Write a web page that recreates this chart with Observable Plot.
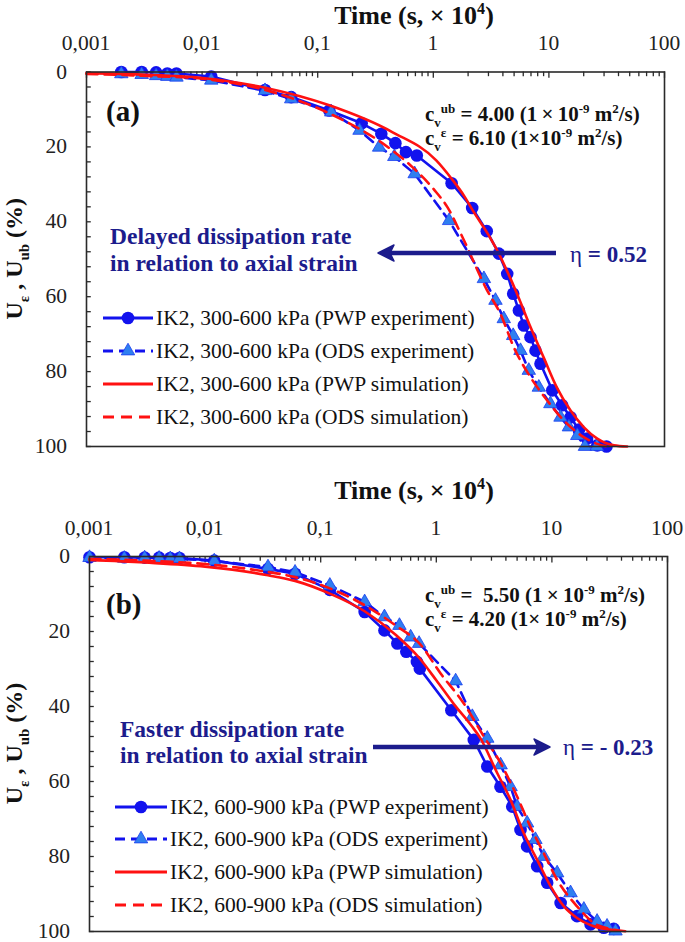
<!DOCTYPE html>
<html><head><meta charset="utf-8">
<script src="https://cdn.jsdelivr.net/npm/d3@7"></script>
<script src="https://cdn.jsdelivr.net/npm/@observablehq/plot@0.6"></script>
<style>
body{margin:0;background:#fff;}
#chart svg{display:block;}
</style></head><body><div id="chart"></div>
<script>
// ---------- tick values / labels ----------
const xTicks = [0.001, 0.01, 0.1, 1, 10, 100];
const xTickLabels = ["0,001", "0,01", "0,1", "1", "10", "100"];
const xMinorMult = [2, 3, 4, 5, 6, 7, 8, 9];
const yTicks = [0, 20, 40, 60, 80, 100];
const yMinor = [4, 8, 12, 16, 24, 28, 32, 36, 44, 48, 52, 56, 64, 68, 72, 76, 84, 88, 92, 96];

// ---------- panel (a): IK2, 300-600 kPa ----------  [time (s x 1e4), U (%)]
const aPwpExp = [[0.002,0],[0.003,0],[0.004,0.1],[0.005,0.4],[0.006,0.4],[0.012,1.2],[0.035,4.8],[0.059,6.7],[0.126,10.3],[0.24,13.7],[0.355,16.5],[0.47,19],[0.58,21.4],[0.72,22.3],[1.44,29.7],[2.17,36.3],[2.9,42.5],[3.69,48.5],[4.36,53.9],[4.91,59.2],[5.5,63.7],[6.07,67.7],[6.93,70.8],[7.66,74.4],[8.46,77.9],[10.7,85],[13.0,89],[15.4,92.2],[18.2,95.5],[21.4,97.9],[26.2,99.7],[31.5,100]];
const aOdsExp = [[0.002,0.5],[0.003,0.7],[0.004,1.0],[0.005,1.2],[0.006,1.4],[0.012,2.2],[0.035,5.0],[0.059,7.2],[0.131,10.7],[0.23,15.6],[0.34,20.1],[0.46,22.6],[0.69,27.2],[1.37,39.7],[2.74,55.2],[3.45,61],[4.07,65.9],[4.91,70.4],[5.68,74.4],[6.7,79.7],[8.18,84.2],[10.3,88.6],[12.6,92.2],[14.9,94.8],[17.6,97.1],[20.5,100],[26,100]];
const aPwpSim = [[0.001,0.3],[0.003,0.7],[0.01,1.6],[0.035,4.2],[0.126,8.9],[0.445,16.1],[1.06,23.6],[1.44,28.5],[1.84,33],[2.2,37],[3.0,43.5],[3.69,48.5],[4.4,53.5],[5.3,59.2],[6.93,68.1],[9.0,76.2],[11.7,84.2],[15.4,90.4],[20,94.8],[26.2,97.9],[36.5,99.7],[47.5,100]];
const aOdsSim = [[0.001,0.5],[0.003,1.0],[0.01,1.8],[0.039,5.2],[0.131,11.3],[0.445,21],[0.66,25.4],[1.06,32.1],[1.32,36],[1.75,43.5],[2.92,58.3],[3.81,64.6],[4.97,73.5],[6.93,81.5],[9.66,87.7],[13.5,93.1],[20,97.5],[26.2,99.3],[32,100]];
const aLegend = ["IK2, 300-600 kPa (PWP experiment)", "IK2, 300-600 kPa (ODS experiment)", "IK2, 300-600 kPa (PWP simulation)", "IK2, 300-600 kPa (ODS simulation)"];

// ---------- panel (b): IK2, 600-900 kPa ----------
const bPwpExp = [[0.001,0.2],[0.002,0.2],[0.003,0.3],[0.004,0.3],[0.005,0.4],[0.006,0.4],[0.012,1.1],[0.035,3.3],[0.06,4.6],[0.12,8.9],[0.24,14.8],[0.356,19.7],[0.46,23.2],[0.55,25.4],[0.68,28.1],[0.72,29.9],[1.35,41],[2.11,48.9],[2.76,56],[3.59,61.4],[4.54,66.7],[5.35,72.9],[6.1,77.3],[7.46,82.6],[9.1,87],[11.9,92.4],[16.5,95.9],[21.6,98.1],[28.1,99],[34.3,99.3]];
const bOdsExp = [[0.001,0.3],[0.002,0.5],[0.003,0.4],[0.004,0.5],[0.005,0.6],[0.006,0.6],[0.012,1.2],[0.035,2.8],[0.06,4.2],[0.12,7.7],[0.24,12.1],[0.356,16.1],[0.48,18.4],[0.6,21.5],[0.71,23.2],[1.47,33.2],[2.05,42.7],[2.76,48.5],[3.6,55.6],[4.39,61.4],[5.0,66.7],[6.1,71.1],[7.2,75.5],[8.5,80],[11.1,84.4],[14.5,89.7],[18.9,94.1],[24.6,97.3],[30,98.6],[35.5,99.9]];
const bPwpSim = [[0.001,0.9],[0.003,1.6],[0.01,2.7],[0.035,5.0],[0.06,6.5],[0.12,9.9],[0.24,14.6],[0.45,21],[0.71,27],[1.0,33],[1.43,39.5],[2.0,45],[2.41,48.5],[3.37,57.8],[4.39,64.9],[5.71,73.8],[7.46,80.9],[9.73,87.9],[12.7,93.3],[16.5,96.4],[23,98.6],[34,99.6]];
const bOdsSim = [[0.001,0.6],[0.003,1.1],[0.01,2.0],[0.03,3.8],[0.06,5.5],[0.12,8.5],[0.24,13],[0.45,18.5],[0.73,23.5],[1.09,31.2],[1.73,39.2],[2.58,48],[3.6,55.1],[5.0,64],[6.5,72],[8.5,79.1],[11.1,86.2],[16.5,93.3],[23,97.7],[34,99.5],[48,100]];
const bLegend = ["IK2, 600-900 kPa (PWP experiment)", "IK2, 600-900 kPa (ODS experiment)", "IK2, 600-900 kPa (PWP simulation)", "IK2, 600-900 kPa (ODS simulation)"];

// ---------- style ----------
const FONT = "'Liberation Serif','Times New Roman',serif";
const BLUE = "#1212ee", TRI = "#2f7ff0", TRISTROKE = "#1a3cf0", RED = "#ff1111", NAVY = "#1c1c8c", AX = "#2a2a2a";

const xMinor = [];
for (const dec of [0.001, 0.01, 0.1, 1, 10]) for (const m of xMinorMult) xMinor.push(dec * m);

function rich(parent, x, y, parts, o) {
  const t = parent.append("text").attr("x", x).attr("y", y)
    .attr("font-family", FONT).attr("font-size", o.size)
    .attr("font-weight", o.weight || "normal").attr("fill", o.fill || "#111")
    .attr("text-anchor", o.anchor || "start");
  if (o.transform) t.attr("transform", o.transform);
  let shift = 0;
  for (const p of parts) {
    const target = p.sup ? -o.size * 0.38 : p.sub ? o.size * 0.28 : 0;
    const ts = t.append("tspan").attr("dy", target - shift).text(p.t);
    if (p.sup || p.sub) ts.attr("font-size", o.size * 0.62);
    if (p.weight) ts.attr("font-weight", p.weight);
    shift = target;
  }
  return t;
}

function panel(p) {
  const X = d => d[0], Y = d => d[1];
  const plot = Plot.plot({
    width: 685, height: p.height,
    marginTop: p.mt, marginBottom: p.mb, marginLeft: p.ml, marginRight: p.mr,
    style: {fontFamily: FONT, background: "#fff", overflow: "visible"},
    x: {type: "log", domain: [0.001, 100], axis: null},
    y: {domain: [0, 100], reverse: true, axis: null},
    marks: [
      Plot.ruleX(xMinor, {x: d => d, y1: 0, y2: 1.25, stroke: AX, strokeWidth: 1.3}),
      Plot.ruleX(xTicks, {x: d => d, y1: 0, y2: 1.7, stroke: AX, strokeWidth: 1.3}),
      Plot.ruleY(yMinor.concat(yTicks), {y: d => d, x1: 0.001, x2: 0.0011, stroke: AX, strokeWidth: 1.3}),
      Plot.line(p.pwpExp, {x: X, y: Y, stroke: BLUE, strokeWidth: 2.6}),
      Plot.dot(p.pwpExp, {x: X, y: Y, r: 6.3, fill: BLUE}),
      Plot.line(p.odsExp, {x: X, y: Y, stroke: BLUE, strokeWidth: 2.6, strokeDasharray: "10,6"}),
      Plot.dot(p.odsExp, {x: X, y: Y, symbol: "triangle", r: 5, fill: TRI, stroke: TRISTROKE, strokeWidth: 0.8}),
      Plot.line(p.pwpSim, {x: X, y: Y, stroke: RED, strokeWidth: 2.6, curve: "monotone-x"}),
      Plot.line(p.odsSim, {x: X, y: Y, stroke: RED, strokeWidth: 2.6, strokeDasharray: "11,7", curve: "monotone-x"}),
      Plot.frame({stroke: AX, strokeWidth: 1.6})
    ]
  });
  const svg = d3.select(plot);
  const sx = plot.scale("x"), sy = plot.scale("y");
  const g = svg.append("g").attr("text-anchor", "start");
  // title
  rich(g, p.titleX, p.titleY, [{t: "Time (s, \u00d7 10"}, {t: "4", sup: true}, {t: ")"}], {size: 26, weight: "bold", anchor: "middle"});
  // x tick labels
  xTicks.forEach((t, i) => g.append("text").attr("x", sx.apply(t)).attr("y", p.xLabY)
    .attr("text-anchor", "middle").attr("font-family", FONT).attr("font-size", 21.5).attr("fill", "#222").text(xTickLabels[i]));
  // y tick labels
  yTicks.forEach(t => g.append("text").attr("x", p.ml - 19).attr("y", sy.apply(t) + 7)
    .attr("text-anchor", "end").attr("font-family", FONT).attr("font-size", 21.5).attr("fill", "#222").text(String(t)));
  // y label
  const cy = (p.mt + p.height - p.mb) / 2;
  rich(g, 0, 0, [{t: "U"}, {t: "\u03b5", sub: true}, {t: " , U"}, {t: "ub", sub: true}, {t: " (%)"}],
    {size: 24, weight: "bold", anchor: "middle", transform: `translate(22,${cy}) rotate(-90)`});
  // panel letter
  g.append("text").attr("x", p.letterX).attr("y", p.letterY).attr("font-family", FONT).attr("font-size", 29)
    .attr("text-anchor", "start").attr("font-weight", "bold").attr("fill", "#111").text(p.letter);
  // cv lines
  rich(g, p.cvX, p.cvY1, p.cv1, {size: 21, weight: "bold"});
  rich(g, p.cvX, p.cvY2, p.cv2, {size: 21, weight: "bold"});
  // dissipation note
  p.note.forEach((s, i) => g.append("text").attr("x", p.noteX).attr("y", p.noteY[i]).attr("font-family", FONT)
    .attr("text-anchor", "start").attr("font-size", 23.5).attr("font-weight", "bold").attr("fill", NAVY).text(s));
  // arrow
  const ax = g.append("g");
  const dir = Math.sign(p.arrow.x2 - p.arrow.x1);
  ax.append("line").attr("x1", p.arrow.x1).attr("x2", p.arrow.x2 - dir * 12).attr("y1", p.arrow.y).attr("y2", p.arrow.y)
    .attr("stroke", NAVY).attr("stroke-width", 4.5);
  ax.append("path").attr("d", `M${p.arrow.x2},${p.arrow.y}L${p.arrow.x2 - dir * 16},${p.arrow.y - 8}L${p.arrow.x2 - dir * 12},${p.arrow.y}L${p.arrow.x2 - dir * 16},${p.arrow.y + 8}Z`)
    .attr("fill", NAVY).attr("stroke", NAVY).attr("stroke-width", 1.5).attr("stroke-linejoin", "round");
  rich(g, p.etaX, p.etaY, [{t: "\u03b7", weight: "normal"}, {t: p.eta}], {size: 23, weight: "bold", fill: NAVY});
  // legend
  const L = p.legend;
  p.legendLabels.forEach((lab, i) => {
    const y = L.y[i];
    const blue = i < 2, dashed = i % 2 === 1;
    g.append("line").attr("x1", L.x1).attr("x2", L.x2).attr("y1", y).attr("y2", y)
      .attr("stroke", blue ? BLUE : RED).attr("stroke-width", 3)
      .attr("stroke-dasharray", dashed ? (blue ? "10,6" : "11,7") : null);
    const mx = (L.x1 + L.x2) / 2;
    if (i === 0) g.append("circle").attr("cx", mx).attr("cy", y).attr("r", 6.3).attr("fill", BLUE);
    if (i === 1) g.append("path").attr("transform", `translate(${mx},${y})`)
      .attr("d", d3.symbol(d3.symbolTriangle, 25 * Math.PI)()).attr("fill", TRI).attr("stroke", TRISTROKE).attr("stroke-width", 0.8);
    g.append("text").attr("x", L.x2 + 3).attr("y", y + 7).attr("font-family", FONT).attr("font-size", 21.5)
      .attr("text-anchor", "start").attr("fill", "#111").text(lab);
  });
  return plot;
}

const root = document.getElementById("chart");
root.appendChild(panel({
  height: 475, mt: 71.5, mb: 29, ml: 86, mr: 21,
  pwpExp: aPwpExp, odsExp: aOdsExp, pwpSim: aPwpSim, odsSim: aOdsSim,
  titleX: 414, titleY: 24, xLabY: 50,
  letter: "(a)", letterX: 106, letterY: 121,
  cvX: 425, cvY1: 121, cvY2: 145,
  cv1: [{t: "c"}, {t: "v", sub: true}, {t: "ub", sup: true}, {t: " = 4.00 (1\u2009\u00d7\u200910"}, {t: "-9", sup: true}, {t: " m"}, {t: "2", sup: true}, {t: "/s)"}],
  cv2: [{t: "c"}, {t: "v", sub: true}, {t: "\u03b5", sup: true}, {t: " = 6.10 (1\u00d710"}, {t: "-9", sup: true}, {t: " m"}, {t: "2", sup: true}, {t: "/s)"}],
  note: ["Delayed dissipation rate", "in relation to axial strain"], noteX: 110, noteY: [244, 271],
  arrow: {x1: 556, x2: 378, y: 253}, eta: " = 0.52", etaX: 570, etaY: 262,
  legendLabels: aLegend, legend: {x1: 103, x2: 153, y: [318, 351, 384, 417]}
}));
root.appendChild(panel({
  height: 467, mt: 81, mb: 11, ml: 89, mr: 18,
  pwpExp: bPwpExp, odsExp: bOdsExp, pwpSim: bPwpSim, odsSim: bOdsSim,
  titleX: 414, titleY: 24, xLabY: 60,
  letter: "(b)", letterX: 106, letterY: 139,
  cvX: 425, cvY1: 127, cvY2: 151,
  cv1: [{t: "c"}, {t: "v", sub: true}, {t: "ub", sup: true}, {t: " =  5.50 (1\u2009\u00d7\u200910"}, {t: "-9", sup: true}, {t: " m"}, {t: "2", sup: true}, {t: "/s)"}],
  cv2: [{t: "c"}, {t: "v", sub: true}, {t: "\u03b5", sup: true}, {t: " = 4.20 (1\u00d7\u200910"}, {t: "-9", sup: true}, {t: " m"}, {t: "2", sup: true}, {t: "/s)"}],
  note: ["Faster dissipation rate", "in relation to axial strain"], noteX: 120, noteY: [262, 288],
  arrow: {x1: 373, x2: 550, y: 272}, eta: " = - 0.23", etaX: 563, etaY: 280,
  legendLabels: bLegend, legend: {x1: 115, x2: 167, y: [332, 364, 397, 430]}
}));
</script></body></html>
